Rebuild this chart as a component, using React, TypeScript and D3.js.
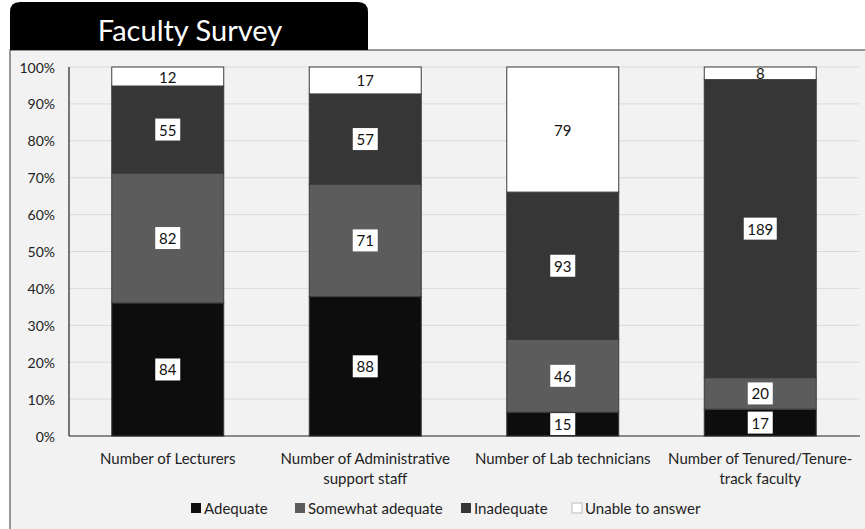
import React from "react";
import * as d3 from "d3";

const categories: string[][] = [
  ["Number of Lecturers"],
  ["Number of Administrative", "support staff"],
  ["Number of Lab technicians"],
  ["Number of Tenured/Tenure-", "track faculty"],
];
const seriesNames = ["Adequate", "Somewhat adequate", "Inadequate", "Unable to answer"];
const adequate = [84, 88, 15, 17];
const somewhatAdequate = [82, 71, 46, 20];
const inadequate = [55, 57, 93, 189];
const unableToAnswer = [12, 17, 79, 8];
const yTicks = [0, 0.1, 0.2, 0.3, 0.4, 0.5, 0.6, 0.7, 0.8, 0.9, 1];

const colors = ["#0d0d0d", "#5c5c5c", "#363636", "#ffffff"];
const font = "Lato, 'Open Sans', sans-serif";

export default function App() {
  const W = 865, H = 529;
  const plotL = 69, plotR = 859, plotT = 67, plotB = 436;
  const series = [adequate, somewhatAdequate, inadequate, unableToAnswer];

  const x = d3.scaleBand<number>().domain(d3.range(categories.length)).range([plotL, plotR]).paddingInner(0.433).paddingOuter(0.2165);
  const y = d3.scaleLinear().domain([0, 1]).range([plotB, plotT]);

  const rows = categories.map((_, i) => {
    const r: Record<string, number> = {};
    seriesNames.forEach((s, k) => (r[s] = series[k][i]));
    return r;
  });
  const stacked = d3.stack<Record<string, number>>().keys(seriesNames).offset(d3.stackOffsetExpand)(rows);

  const legendX = [191, 295, 461, 572];

  return (
    <svg width={W} height={H} style={{ position: "absolute", left: 0, top: 0 }} fontFamily={font}>
      {/* panel */}
      <rect x={10} y={50} width={W} height={H} fill="#f2f2f2" stroke="#555" strokeWidth={1.2} />
      {/* title tab */}
      <path d="M10,50 L10,12 Q10,2 20,2 L358,2 Q368,2 368,12 L368,50 Z" fill="#000" />
      <text x={190} y={29} fill="#fff" fontSize={29} textAnchor="middle" dominantBaseline="central">Faculty Survey</text>

      {/* grid */}
      {yTicks.map((t) => (
        <g key={t}>
          {t > 0 && <line x1={plotL} x2={plotR} y1={y(t)} y2={y(t)} stroke="#d9d9d9" strokeWidth={1} />}
          <text x={55} y={y(t)} fontSize={14} textAnchor="end" dominantBaseline="central" fill="#222">
            {d3.format(".0%")(t)}
          </text>
        </g>
      ))}

      {/* bars */}
      {stacked.map((layer, k) => (
        <g key={layer.key}>
          {layer.map((d, i) => (
            <rect key={i} x={x(i)!} width={x.bandwidth()} y={y(d[1])} height={y(d[0]) - y(d[1])}
              fill={colors[k]} stroke="#3a3a3a" strokeWidth={1} />
          ))}
        </g>
      ))}

      {/* value labels */}
      {stacked.map((layer, k) => (
        <g key={"l" + layer.key}>
          {layer.map((d, i) => {
            const cx = x(i)! + x.bandwidth() / 2;
            const cy = (y(d[0]) + y(d[1])) / 2;
            const v = series[k][i];
            const w = String(v).length * 8 + 9;
            return (
              <g key={i}>
                {k < 3 && <rect x={cx - w / 2} y={cy - 11} width={w} height={22} fill="#fff" />}
                <text x={cx} y={cy} fontSize={15} textAnchor="middle" dominantBaseline="central" fill="#111">{v}</text>
              </g>
            );
          })}
        </g>
      ))}

      {/* axes */}
      <line x1={plotL} x2={plotL} y1={plotT} y2={plotB} stroke="#222" strokeWidth={1.2} />
      <line x1={plotL} x2={plotR + 1} y1={plotB} y2={plotB} stroke="#222" strokeWidth={1.2} />

      {/* category labels */}
      {categories.map((lines, i) => (
        <text key={i} x={x(i)! + x.bandwidth() / 2} fontSize={15} textAnchor="middle" fill="#222">
          {lines.map((l, j) => (
            <tspan key={j} x={x(i)! + x.bandwidth() / 2} y={458 + j * 20} dominantBaseline="central">{l}</tspan>
          ))}
        </text>
      ))}

      {/* legend */}
      {seriesNames.map((s, k) => (
        <g key={s}>
          <rect x={legendX[k]} y={503} width={10} height={10} fill={colors[k]} stroke={k === 3 ? "#bbb" : "none"} />
          <text x={legendX[k] + 13} y={508} fontSize={15} dominantBaseline="central" fill="#222">{s}</text>
        </g>
      ))}
    </svg>
  );
}
